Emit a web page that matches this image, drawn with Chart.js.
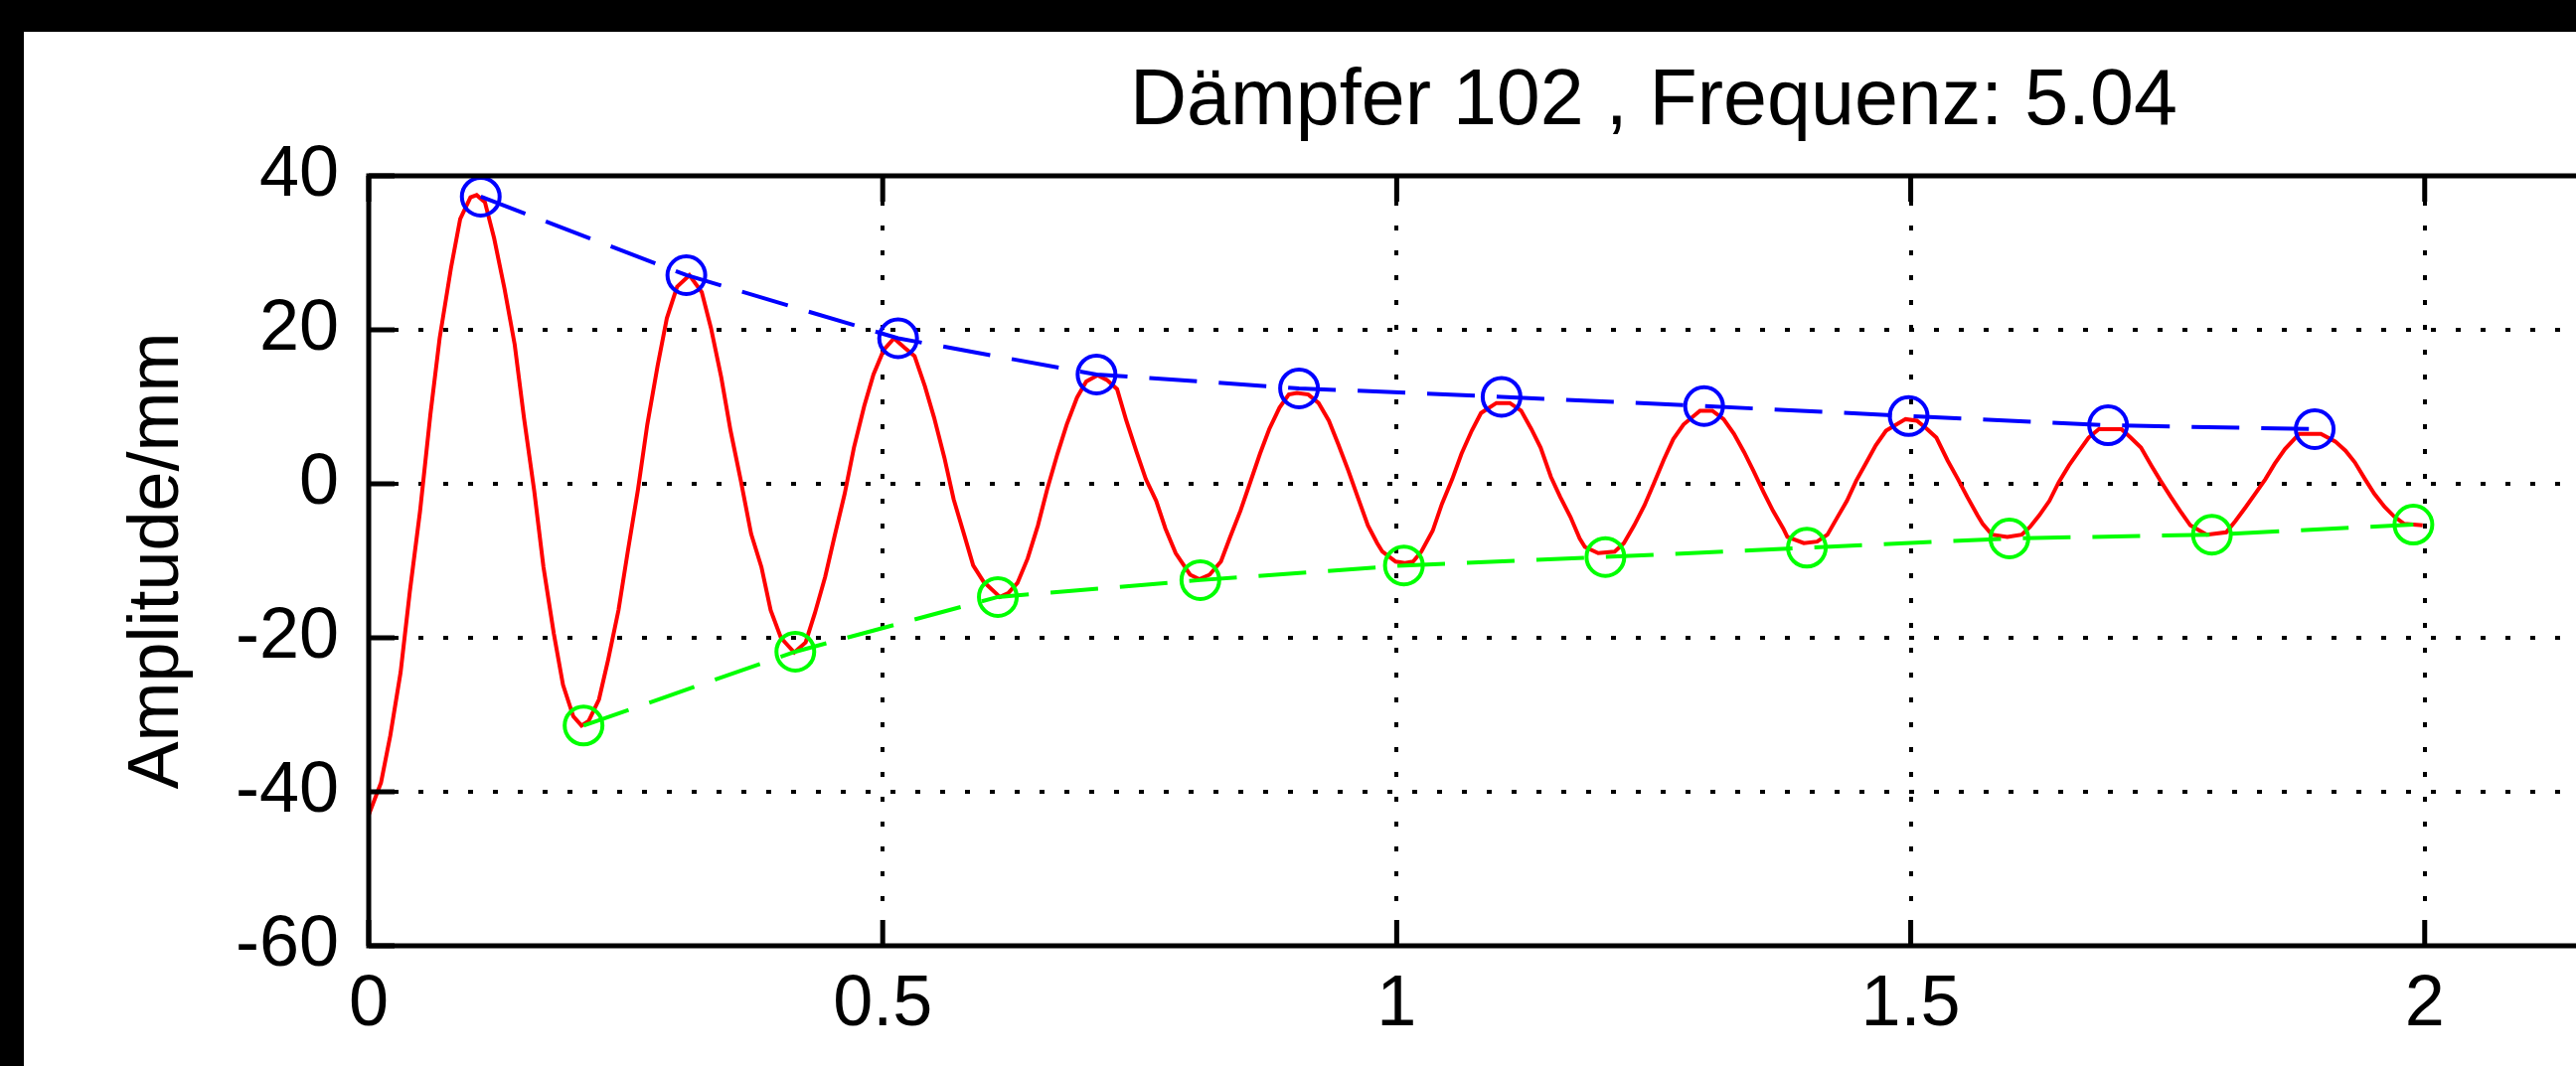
<!DOCTYPE html>
<html>
<head>
<meta charset="utf-8">
<script src="https://cdn.jsdelivr.net/npm/chart.js@4/dist/chart.umd.min.js"></script>
<style>
  html, body { margin: 0; padding: 0; background: #000; overflow: hidden; width: 2592px; height: 1073px; }
  #rahmen { position: absolute; left: 24px; top: 32px; width: 2568px; height: 1041px; background: #fff; overflow: hidden; }
  #grafico { position: absolute; left: 0; top: 0; }
</style>
</head>
<body>
<div id="rahmen"><canvas id="grafico" width="3000" height="1041"></canvas></div>
<script>
// Messkurve (rot)
const zeitRot = [0.000, 0.012, 0.021, 0.031, 0.040, 0.050, 0.060, 0.069, 0.080, 0.089,
    0.099, 0.105, 0.113, 0.122, 0.132, 0.142, 0.151, 0.161, 0.170, 0.180,
    0.189, 0.199, 0.207, 0.214, 0.224, 0.233, 0.243, 0.252, 0.262, 0.271,
    0.281, 0.290, 0.300, 0.312, 0.324, 0.333, 0.343, 0.352, 0.362, 0.372,
    0.382, 0.391, 0.401, 0.414, 0.425, 0.434, 0.444, 0.453, 0.463, 0.472,
    0.482, 0.491, 0.501, 0.511, 0.521, 0.531, 0.541, 0.550, 0.560, 0.569,
    0.579, 0.588, 0.598, 0.614, 0.622, 0.631, 0.641, 0.651, 0.660, 0.670,
    0.679, 0.689, 0.698, 0.709, 0.718, 0.728, 0.737, 0.747, 0.756, 0.766,
    0.775, 0.785, 0.799, 0.808, 0.818, 0.829, 0.838, 0.848, 0.857, 0.867,
    0.876, 0.886, 0.895, 0.903, 0.914, 0.924, 0.934, 0.943, 0.953, 0.962,
    0.972, 0.981, 0.986, 0.999, 1.008, 1.016, 1.024, 1.035, 1.044, 1.054,
    1.063, 1.073, 1.082, 1.097, 1.110, 1.121, 1.131, 1.140, 1.150, 1.159,
    1.169, 1.178, 1.183, 1.196, 1.212, 1.221, 1.231, 1.241, 1.250, 1.260,
    1.269, 1.279, 1.295, 1.307, 1.318, 1.328, 1.338, 1.347, 1.357, 1.366,
    1.376, 1.380, 1.396, 1.409, 1.419, 1.428, 1.438, 1.447, 1.457, 1.466,
    1.476, 1.495, 1.506, 1.516, 1.525, 1.536, 1.546, 1.555, 1.565, 1.570,
    1.579, 1.594, 1.608, 1.616, 1.625, 1.635, 1.644, 1.654, 1.664, 1.673,
    1.683, 1.705, 1.714, 1.724, 1.734, 1.743, 1.753, 1.762, 1.772, 1.788,
    1.807, 1.816, 1.826, 1.835, 1.845, 1.854, 1.864, 1.873, 1.878, 1.899,
    1.913, 1.923, 1.932, 1.942, 1.951, 1.961, 1.970, 1.980, 1.998];
const amplitudeRot = [-43.0, -38.8, -32.7, -24.5, -14.0, -3.5, 9.0, 18.9, 28.0, 34.4,
    37.2, 37.5, 36.6, 31.9, 25.4, 18.1, 8.6, -0.9, -10.8, -19.4,
    -26.1, -30.2, -31.4, -30.8, -28.0, -22.8, -16.4, -8.8, -0.7, 7.7,
    15.3, 21.5, 25.6, 27.1, 24.9, 20.2, 13.8, 6.9, 0.4, -6.5,
    -10.8, -16.4, -20.0, -21.9, -20.6, -16.8, -12.1, -6.9, -1.3, 4.7,
    10.1, 14.2, 17.4, 18.9, 17.7, 16.6, 12.7, 8.6, 3.4, -2.0,
    -6.5, -10.6, -12.7, -14.7, -14.2, -12.9, -9.7, -5.4, -0.7, 3.9,
    7.7, 11.2, 13.3, 14.1, 13.5, 12.3, 8.2, 4.1, 0.6, -2.2,
    -5.8, -9.0, -11.8, -12.4, -11.8, -10.1, -6.9, -3.5, 0.0, 3.9,
    7.1, 9.9, 11.6, 11.8, 11.6, 10.5, 8.2, 5.2, 1.7, -1.7,
    -5.4, -7.7, -8.8, -10.1, -10.3, -10.1, -8.8, -6.1, -2.6, 0.6,
    3.9, 6.9, 9.2, 10.5, 10.5, 9.5, 7.1, 4.7, 0.9, -1.7,
    -4.3, -7.1, -8.2, -9.0, -8.8, -7.7, -5.4, -2.8, 0.0, 3.2,
    5.8, 7.7, 9.5, 9.5, 8.4, 6.5, 4.1, 1.7, -1.1, -3.5,
    -5.8, -6.9, -7.7, -7.5, -6.6, -4.5, -2.2, 0.4, 2.8, 5.0,
    6.9, 8.4, 8.2, 7.1, 6.0, 3.0, 0.6, -1.7, -4.1, -5.2,
    -6.6, -6.9, -6.6, -5.6, -4.1, -2.2, 0.2, 2.4, 4.3, 6.0,
    7.1, 7.1, 6.0, 4.7, 2.4, 0.4, -1.7, -3.5, -5.4, -6.6,
    -6.3, -4.8, -3.0, -1.3, 0.6, 2.6, 4.5, 5.8, 6.5, 6.5,
    5.5, 4.3, 2.8, 0.6, -1.3, -3.0, -4.2, -5.2, -5.4];

// Maxima (blau) und Minima (gruen)
const zeitMax = [0.109, 0.309, 0.515, 0.708, 0.905, 1.102, 1.299, 1.498, 1.692, 1.893];
const amplitudeMax = [37.3, 27.1, 18.9, 14.2, 12.4, 11.3, 10.1, 8.8, 7.6, 7.1];
const zeitMin = [0.209, 0.415, 0.612, 0.809, 1.007, 1.203, 1.399, 1.596, 1.793, 1.989];
const amplitudeMin = [-31.4, -21.8, -14.7, -12.5, -10.6, -9.5, -8.3, -7.1, -6.6, -5.3];

// Achsen
const xTicks = [0, 0.5, 1, 1.5, 2, 2.5];
const yTicks = [-60, -40, -20, 0, 20, 40];

function punkte(zeit, werte) {
    return zeit.map((t, i) => ({ x: t, y: werte[i] }));
}

// Rahmen und Striche nach innen wie bei MATLAB
const rahmenPlugin = {
    id: 'rahmen',
    afterDatasetsDraw(chart) {
        const { ctx, chartArea: a, scales } = chart;
        const len = 26;
        ctx.save();
        ctx.strokeStyle = '#000';
        ctx.setLineDash([]);
        ctx.lineWidth = 5;
        ctx.beginPath();
        xTicks.forEach(v => {
            const px = scales.x.getPixelForValue(v);
            ctx.moveTo(px, a.bottom); ctx.lineTo(px, a.bottom - len);
            ctx.moveTo(px, a.top); ctx.lineTo(px, a.top + len);
        });
        yTicks.forEach(v => {
            const py = scales.y.getPixelForValue(v);
            ctx.moveTo(a.left, py); ctx.lineTo(a.left + len, py);
            ctx.moveTo(a.right, py); ctx.lineTo(a.right - len, py);
        });
        ctx.stroke();
        ctx.strokeRect(a.left, a.top, a.right - a.left, a.bottom - a.top);
        ctx.restore();
    }
};

const schrift = "'Liberation Sans', Arial, sans-serif";

const config = {
    type: 'line',
    data: {
        datasets: [
            {
                label: 'Maxima',
                data: punkte(zeitMax, amplitudeMax),
                borderColor: '#0000ff',
                borderWidth: 4,
                borderDash: [48, 22],
                pointStyle: 'circle',
                pointRadius: 19,
                pointBorderWidth: 4,
                pointBorderColor: '#0000ff',
                pointBackgroundColor: 'rgba(0,0,0,0)',
                fill: false,
                tension: 0
            },
            {
                label: 'Minima',
                data: punkte(zeitMin, amplitudeMin),
                borderColor: '#00ff00',
                borderWidth: 4,
                borderDash: [48, 22],
                pointStyle: 'circle',
                pointRadius: 19,
                pointBorderWidth: 4,
                pointBorderColor: '#00ff00',
                pointBackgroundColor: 'rgba(0,0,0,0)',
                fill: false,
                tension: 0
            },
            {
                label: 'Amplitude',
                data: punkte(zeitRot, amplitudeRot),
                borderColor: '#ff0000',
                borderWidth: 4,
                pointRadius: 0,
                fill: false,
                tension: 0
            }
        ]
    },
    options: {
        responsive: false,
        animation: false,
        devicePixelRatio: 1,
        layout: { padding: { left: 0, right: 33, top: 0, bottom: 0 } },
        plugins: {
            legend: { display: false },
            tooltip: { enabled: false },
            title: {
                display: true,
                fullSize: false,
                text: 'Dämpfer 102 , Frequenz: 5.04',
                color: '#000',
                font: { family: schrift, size: 79, weight: 'normal', lineHeight: 1 },
                padding: { top: 32, bottom: 34 }
            }
        },
        scales: {
            x: {
                type: 'linear',
                min: 0,
                max: 2.5,
                afterBuildTicks: s => { s.ticks = xTicks.map(v => ({ value: v })); },
                afterFit: s => { s.height = 121; },
                grid: { color: '#000', lineWidth: 4, drawTicks: false },
                border: { display: false, dash: [5, 20] },
                ticks: {
                    color: '#000',
                    padding: 17,
                    maxRotation: 0,
                    font: { family: schrift, size: 72 },
                    callback: v => String(v)
                }
            },
            y: {
                type: 'linear',
                min: -60,
                max: 40,
                afterBuildTicks: s => { s.ticks = yTicks.map(v => ({ value: v })); },
                afterFit: s => { s.width = 347; },
                grid: { color: '#000', lineWidth: 4, drawTicks: false },
                border: { display: false, dash: [5, 20] },
                ticks: {
                    color: '#000',
                    padding: 30,
                    font: { family: schrift, size: 72 },
                    callback: v => String(v)
                },
                title: {
                    display: true,
                    text: 'Amplitude/mm',
                    color: '#000',
                    font: { family: schrift, size: 72, lineHeight: 1.2 },
                    padding: { top: 92, bottom: 0 }
                }
            }
        }
    },
    plugins: [rahmenPlugin]
};

const migrafico = document.getElementById('grafico');
const graficoActual = new Chart(migrafico, config);
</script>
</body>
</html>
